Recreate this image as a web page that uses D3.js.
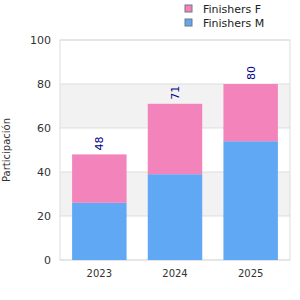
<!DOCTYPE html>
<html>
<head>
<meta charset="utf-8">
<script src="https://cdn.jsdelivr.net/npm/d3@7"></script>
<style>
  body { margin: 0; background: #fff; }
  text { font-family: "DejaVu Sans", sans-serif; }
</style>
</head>
<body>
<svg width="300" height="300"></svg>
<script>
var years = ["2023", "2024", "2025"];
var finishersM = [26, 39, 54];
var finishersF = [22, 32, 26];
var yTicks = [0, 20, 40, 60, 80, 100];

var svg = d3.select("svg"),
    margin = {top: 40, right: 10, bottom: 40, left: 60},
    width = 300 - margin.left - margin.right,
    height = 300 - margin.top - margin.bottom;

var g = svg.append("g").attr("transform", "translate(" + margin.left + "," + margin.top + ")");

var x = d3.scaleBand().domain(years).range([0, width]).paddingInner(0.28).paddingOuter(0.16);
var y = d3.scaleLinear().domain([0, 100]).range([height, 0]);

// alternating bands
for (var i = 0; i < yTicks.length - 1; i++) {
    if (i % 2 === 1) {
        g.append("rect")
            .attr("x", 0).attr("width", width)
            .attr("y", y(yTicks[i + 1]))
            .attr("height", y(yTicks[i]) - y(yTicks[i + 1]))
            .style("fill", "#f2f2f2");
    }
}

g.selectAll(".grid").data(yTicks).enter().append("line")
    .attr("x1", 0).attr("x2", width)
    .attr("y1", function(d) { return y(d); })
    .attr("y2", function(d) { return y(d); })
    .style("stroke", "#dddddd");

g.append("rect")
    .attr("width", width).attr("height", height)
    .style("fill", "none").style("stroke", "#dddddd");

var data = years.map(function(yr, i) { return {year: yr, M: finishersM[i], F: finishersF[i]}; });
var stack = d3.stack().keys(["M", "F"])(data);
var colors = {M: "#60a8f4", F: "#f283bb"};

g.selectAll(".series").data(stack).enter().append("g")
    .style("fill", function(d) { return colors[d.key]; })
    .selectAll("rect").data(function(d) { return d; }).enter().append("rect")
        .attr("x", function(d) { return x(d.data.year); })
        .attr("width", x.bandwidth())
        .attr("y", function(d) { return y(d[1]); })
        .attr("height", function(d) { return y(d[0]) - y(d[1]); });

// totals
g.selectAll(".total").data(data).enter().append("text")
    .attr("transform", function(d) {
        return "translate(" + (x(d.year) + x.bandwidth() / 2 + 4) + "," + (y(d.M + d.F) - 4) + ") rotate(-90)";
    })
    .style("font-size", "11px")
    .style("fill", "#000088")
    .text(function(d) { return d.M + d.F; });

// axes labels
g.selectAll(".ytick").data(yTicks).enter().append("text")
    .attr("x", -9).attr("y", function(d) { return y(d); })
    .attr("dy", "0.35em")
    .attr("text-anchor", "end")
    .style("font-size", "11px").style("fill", "#333")
    .text(function(d) { return d; });

g.selectAll(".xtick").data(years).enter().append("text")
    .attr("x", function(d) { return x(d) + x.bandwidth() / 2; })
    .attr("y", height + 17)
    .attr("text-anchor", "middle")
    .style("font-size", "10px").style("fill", "#333")
    .text(function(d) { return d; });

svg.append("text")
    .attr("transform", "translate(10," + (margin.top + height / 2) + ") rotate(-90)")
    .attr("text-anchor", "middle")
    .style("font-size", "10px").style("fill", "#333")
    .text("Participación");

// legend
var legend = [{key: "F", label: "Finishers F"}, {key: "M", label: "Finishers M"}];
var lg = svg.selectAll(".legend").data(legend).enter().append("g")
    .attr("transform", function(d, i) { return "translate(185," + (5 + i * 14) + ")"; });
lg.append("rect").attr("width", 7).attr("height", 7)
    .style("fill", function(d) { return colors[d.key]; })
    .style("stroke", "#777").style("stroke-width", 1);
lg.append("text").attr("x", 18).attr("y", 4).attr("dy", "0.35em")
    .style("font-size", "11px").style("fill", "#222")
    .text(function(d) { return d.label; });
</script>
</body>
</html>
